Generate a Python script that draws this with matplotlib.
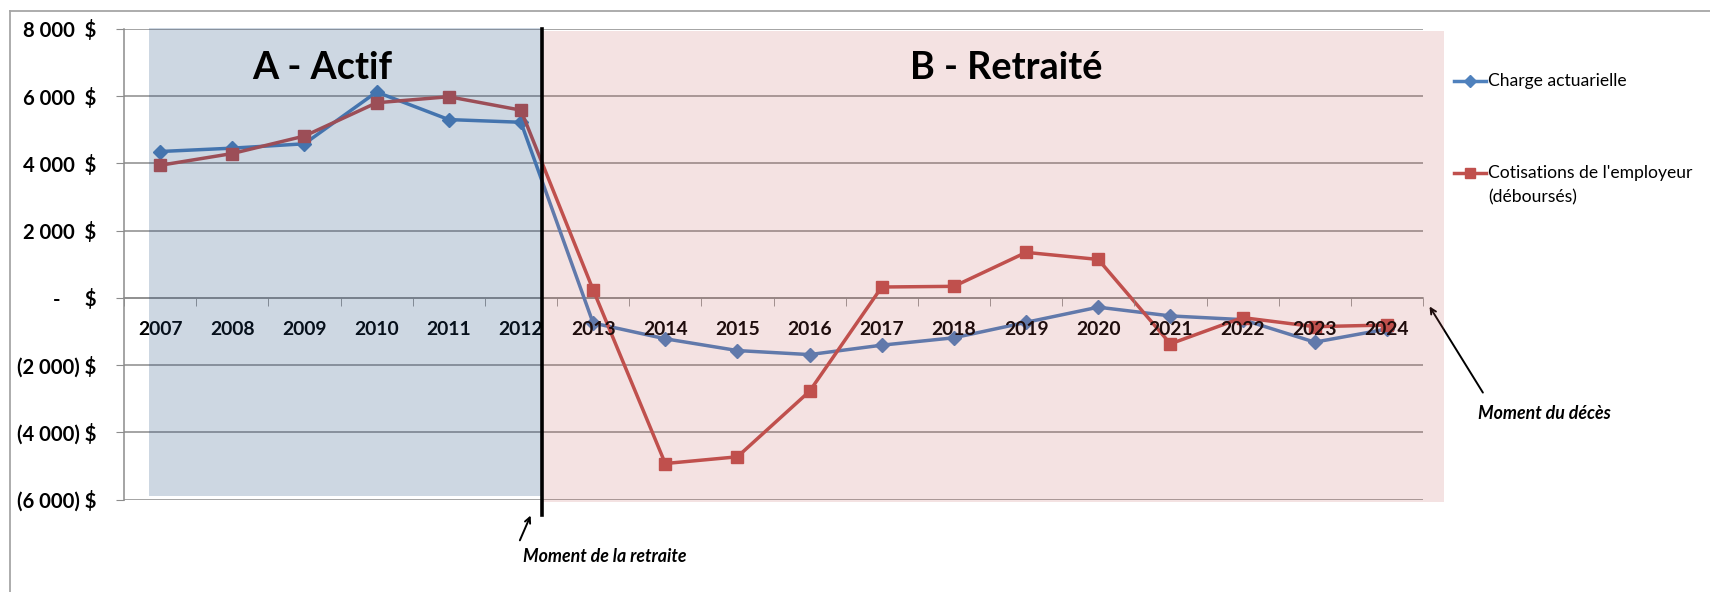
import numpy as np
import matplotlib
matplotlib.use("Agg")
import matplotlib.pyplot as plt
from matplotlib.patches import Rectangle
from matplotlib.lines import Line2D

plt.rcParams['font.family'] = ['Lato', 'DejaVu Sans']
plt.rcParams['font.weight'] = 'bold'

# données
annees = [str(a) for a in range(2007, 2025)]
charge = [4350, 4450, 4580, 6120, 5300, 5220, -750, -1220, -1570, -1690,
          -1410, -1190, -730, -280, -540, -650, -1320, -930]
cotisations = [3940, 4290, 4810, 5800, 5980, 5580, 240, -4930, -4730, -2780,
               320, 340, 1350, 1140, -1370, -590, -860, -810]
yticks = [-6000, -4000, -2000, 0, 2000, 4000, 6000, 8000]
legende = ["Charge actuarielle", "Cotisations de l'employeur", "(déboursés)"]

bleu = '#4f81bd'
rouge = '#c0504d'
gris = '#8c8c8c'

W, H = 1710, 592
fig = plt.figure(figsize=(W / 100, H / 100), dpi=100)
rend = fig.canvas.get_renderer()


# taille de police pour qu'un texte ait la largeur voulue (en pixels)
def taille(texte, largeur, **kw):
    t = fig.text(0, 0, texte, fontsize=10, **kw)
    w = t.get_window_extent(rend).width
    t.remove()
    return 10 * largeur / w


fs_titre = taille('A - Actif', 140, fontweight='bold')
fs_annee = taille('2007', 45, fontweight='bold')
fs_y = taille('(6 000) $', 80, fontweight='bold')
fs_leg = taille(legende[1], 204, fontweight='normal')
fs_note = taille('Moment de la retraite', 163, fontweight='bold', style='italic')

ax = fig.add_axes([124 / W, 1 - 499.5 / H, (1423 - 124) / W, (499.5 - 28.8) / H])

x = np.arange(len(annees))
ax.set_xlim(-0.5, len(annees) - 0.5)
ax.set_ylim(-6000, 8000)

for s in ['top', 'right']:
    ax.spines[s].set_visible(False)
ax.spines['bottom'].set_position(('data', 0))
for s in ['left', 'bottom']:
    ax.spines[s].set_color(gris)
    ax.spines[s].set_linewidth(1.1)

# quadrillage
for v in yticks:
    ax.axhline(v, color=gris, lw=1.1, zorder=0.5)

ax.plot(x, charge, color=bleu, lw=2.5, marker='D', ms=7, zorder=3)
ax.plot(x, cotisations, color=rouge, lw=2.5, marker='s', ms=8, zorder=3)

# zones A et B, transparentes par-dessus le graphique
ax.add_patch(Rectangle((-0.15, -5890), 5.445, 13925, facecolor='#1f497d',
                       alpha=0.22, edgecolor='none', zorder=10, clip_on=False))
ax.add_patch(Rectangle((5.295, -6060), 12.5, 13990, facecolor=rouge,
                       alpha=0.16, edgecolor='none', zorder=10, clip_on=False))

# ligne de la retraite
ax.plot([5.295, 5.295], [8000, -6460], color='black', lw=2.6, zorder=11,
        clip_on=False)


def dollars(v):
    if v == 0:
        return '-     $'
    s = f"{abs(v):,}".replace(',', ' ')
    return f"({s}) $" if v < 0 else f"{s}  $"


ax.tick_params(axis='y', length=6, color=gris, pad=14, labelsize=fs_y)
ax.tick_params(axis='x', which='major', length=0, pad=17, labelsize=fs_annee,
               labelcolor='black')
ax.tick_params(axis='x', which='minor', length=6, color=gris, direction='out')

ax.set_yticks(yticks)
ax.set_yticklabels([dollars(v) for v in yticks])
ax.set_xticks(x)
ax.set_xticklabels(annees)
ax.set_xticks(np.arange(-0.5, len(annees)), minor=True)
ax.xaxis.set_zorder(5)

ax.text(2.24, 6826, 'A - Actif', fontsize=fs_titre, fontweight='bold',
        ha='center', va='center', zorder=12)
ax.text(11.72, 6826, 'B - Retraité', fontsize=fs_titre, fontweight='bold',
        ha='center', va='center', zorder=12)

# annotations
ax.annotate('', xy=(5.15, -6400), xytext=(4.97, -7290), annotation_clip=False,
            arrowprops=dict(arrowstyle='->', lw=1.4, color='black'))
ax.text(5.03, -7706, 'Moment de la retraite', fontsize=fs_note, fontweight='bold',
        style='italic', ha='left', va='center', clip_on=False)
ax.annotate('', xy=(17.57, -187), xytext=(18.35, -2890), annotation_clip=False,
            arrowprops=dict(arrowstyle='->', lw=1.4, color='black'))
ax.text(19.18, -3430, 'Moment du décès', fontsize=fs_note, fontweight='bold',
        style='italic', ha='center', va='center', clip_on=False)

# légende
for y, c, m, ms in [(80.7, bleu, 'D', 6.5), (173, rouge, 's', 7.5)]:
    fig.add_artist(Line2D([1454 / W, 1470 / W, 1486 / W], [1 - y / H] * 3,
                          color=c, lw=2.5, marker=m, ms=ms, markevery=[1]))
fig.text(1488 / W, 1 - 80.7 / H, legende[0], fontsize=fs_leg, va='center',
         fontweight='normal')
fig.text(1488 / W, 1 - 173 / H, legende[1], fontsize=fs_leg, va='center',
         fontweight='normal')
fig.text(1488 / W, 1 - 197 / H, legende[2], fontsize=fs_leg, va='center',
         fontweight='normal')

# cadre extérieur
fig.add_artist(Line2D([10 / W, 1], [1 - 11 / H] * 2, color='#a6a6a6', lw=1.3))
fig.add_artist(Line2D([10 / W] * 2, [0, 1 - 11 / H], color='#a6a6a6', lw=1.3))

fig.savefig('out.png', dpi=100)
